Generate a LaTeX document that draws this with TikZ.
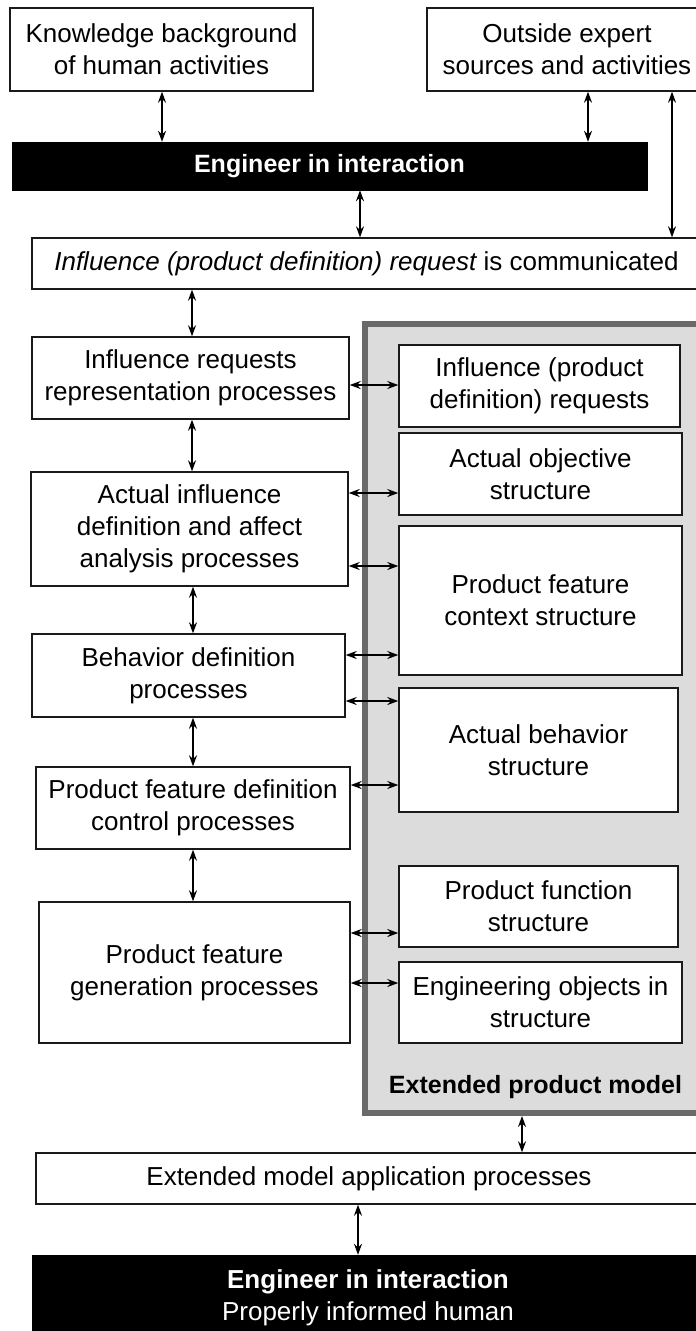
\documentclass[tikz,border=0pt]{standalone}
\usepackage{fontspec}
\setmainfont{Liberation Sans}
\usetikzlibrary{arrows.meta}
\definecolor{panelgray}{HTML}{DCDCDC}
\definecolor{paneledge}{HTML}{6A6A6A}
\definecolor{ink}{HTML}{1A1A1A}
\tikzset{
  txt/.style={font=\fontsize{26}{32}\selectfont},
  box/.style={txt, draw=ink, line width=1.4pt, fill=white, align=center,
    inner sep=0pt, text=black},
  darkbar/.style={txt, draw=black, fill=black, text=white, align=center,
    inner sep=0pt},
  panel/.style={draw=paneledge, fill=panelgray, line width=6pt, inner sep=0pt},
  link/.style={draw=black, line width=1.4pt,
    {Stealth[length=11pt,width=8pt]}-{Stealth[length=11pt,width=8pt]}},
}
\begin{document}
\begin{tikzpicture}[x=1pt,y=-1pt]
  \useasboundingbox (0,0) rectangle (696,1331);
  \clip (0,0) rectangle (696,1331);
  \fill[white] (0,0) rectangle (696,1331);

  % column and row guides for the connectors
  \coordinate (cK) at (162,0);
  \coordinate (cO) at (588,0);
  \coordinate (cX) at (672,0);
  \coordinate (cE) at (360,0);
  \coordinate (cL) at (192,0);
  \coordinate (cL2) at (193,0);
  \coordinate (cM) at (522,0);
  \coordinate (cB) at (358,0);
  \coordinate (r1) at (0,385);
  \coordinate (r2) at (0,493);
  \coordinate (r3) at (0,566);
  \coordinate (r4) at (0,655);
  \coordinate (r5) at (0,701);
  \coordinate (r6) at (0,785);
  \coordinate (r7) at (0,933);
  \coordinate (r8) at (0,983);

  % top row
  \node[box, minimum width=303pt, minimum height=83pt] (know) at (161.5,49.5)
    {Knowledge background\\of human activities};
  \node[box, minimum width=280pt, minimum height=83pt] (outside) at (567,49.5)
    {Outside expert\\sources and activities};
  \node[darkbar, minimum width=635pt, minimum height=48pt,
    font=\fontsize{25}{32}\selectfont\bfseries] (eng) at (329.5,166)
    {Engineer in interaction};
  \node[box, minimum width=669pt, minimum height=51pt] (request) at (366.5,263.5)
    {{\itshape Influence (product definition) request} is communicated};

  % extended product model panel
  \node[panel, minimum width=341pt, minimum height=789pt] (model) at (535.5,718.5) {};
  \node[font=\fontsize{25}{30}\selectfont\bfseries] (modellabel) at (535.5,1087)
    {Extended product model};

  % process column
  \node[box, minimum width=317pt, minimum height=82pt] (repr) at (190.5,378)
    {Influence requests\\representation processes};
  \node[box, minimum width=317pt, minimum height=114pt] (infdef) at (189.5,529)
    {Actual influence\\definition and affect\\analysis processes};
  \node[box, minimum width=313pt, minimum height=83pt] (behdef) at (188.5,675.5)
    {Behavior definition\\processes};
  \node[box, minimum width=314pt, minimum height=82pt] (featctl) at (193,808)
    {Product feature definition\\control processes};
  \node[box, minimum width=311pt, minimum height=141pt] (featgen) at (194.5,972.5)
    {Product feature\\generation processes};

  % structures inside the panel
  \node[box, minimum width=281pt, minimum height=82pt] (sreq) at (539.5,386)
    {Influence (product\\definition) requests};
  \node[box, minimum width=283pt, minimum height=82pt] (sobj) at (540.5,474)
    {Actual objective\\structure};
  \node[box, minimum width=283pt, minimum height=149pt] (sctx) at (540.5,600.5)
    {Product feature\\context structure};
  \node[box, minimum width=279pt, minimum height=124pt] (sbeh) at (538.5,750)
    {Actual behavior\\structure};
  \node[box, minimum width=279pt, minimum height=81pt] (sfun) at (538.5,906.5)
    {Product function\\structure};
  \node[box, minimum width=283pt, minimum height=81pt] (seng) at (540.5,1002.5)
    {Engineering objects in\\structure};

  % bottom row
  \node[box, minimum width=666pt, minimum height=51pt] (apply) at (369,1178.5)
    {Extended model application processes};
  \node[darkbar, minimum width=672pt, minimum height=85pt] (human) at (368,1297.5)
    {{\bfseries Engineer in interaction}\\Properly informed human};

  % vertical connectors
  \draw[link] (know.south -| cK) -- (eng.north -| cK);
  \draw[link] (outside.south -| cO) -- (eng.north -| cO);
  \draw[link] (outside.south -| cX) -- (request.north -| cX);
  \draw[link] (eng.south -| cE) -- (request.north -| cE);
  \draw[link] (request.south -| cL) -- (repr.north -| cL);
  \draw[link] (repr.south -| cL) -- (infdef.north -| cL);
  \draw[link] (infdef.south -| cL2) -- (behdef.north -| cL2);
  \draw[link] (behdef.south -| cL2) -- (featctl.north -| cL2);
  \draw[link] (featctl.south -| cL2) -- (featgen.north -| cL2);
  \draw[link] (model.south -| cM) -- (apply.north -| cM);
  \draw[link] (apply.south -| cB) -- (human.north -| cB);

  % horizontal connectors into the panel
  \draw[link] (repr.east |- r1) -- (sreq.west |- r1);
  \draw[link] (infdef.east |- r2) -- (sobj.west |- r2);
  \draw[link] (infdef.east |- r3) -- (sctx.west |- r3);
  \draw[link] (behdef.east |- r4) -- (sctx.west |- r4);
  \draw[link] (behdef.east |- r5) -- (sbeh.west |- r5);
  \draw[link] (featctl.east |- r6) -- (sbeh.west |- r6);
  \draw[link] (featgen.east |- r7) -- (sfun.west |- r7);
  \draw[link] (featgen.east |- r8) -- (seng.west |- r8);
\end{tikzpicture}
\end{document}
